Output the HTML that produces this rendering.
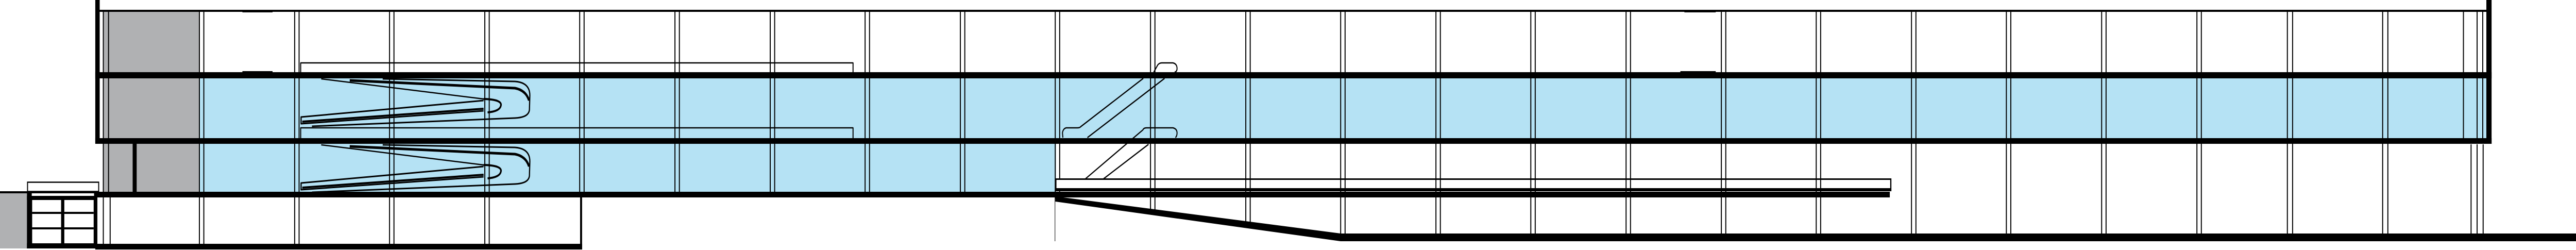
<!DOCTYPE html>
<html><head><meta charset="utf-8"><style>html,body{margin:0;padding:0;background:#fff;overflow:hidden;width:100%;height:100%}svg{display:block;width:100vw;height:100vh}</style></head>
<body>
<svg viewBox="0 0 6408 485" preserveAspectRatio="none" xmlns="http://www.w3.org/2000/svg">
<rect x="495" y="150" width="5692" height="120" fill="#b5e2f4"/>
<rect x="495" y="278" width="2132" height="96" fill="#b5e2f4"/>
<rect x="258" y="22" width="238" height="352" fill="#b0b1b3"/>
<rect x="0" y="372" width="67" height="110" fill="#b0b1b3"/>
<g stroke="#000" stroke-width="2.5" fill="none">
<path d="M496 23V473M507 23V473M733 23V473M744 23V473M969 23V473M980 23V473M1206 23V473M1217 23V473
M1442 23V372M1453 23V372M1679 23V372M1690 23V372M1916 23V372M1927 23V372M2152 23V372M2163 23V372M2389 23V372M2400 23V372
M2625 23V468M2636 23V468M2862 23V468M2873 23V468M3099 23V468M3110 23V468M3335 23V468M3346 23V468M3572 23V468M3583 23V468
M3808 23V468M3819 23V468M4045 23V468M4056 23V468M4282 23V468M4293 23V468M4518 23V468M4529 23V468M4755 23V468M4766 23V468
M4991 23V468M5002 23V468M5228 23V468M5239 23V468M5465 23V468M5476 23V468M5690 23V468M5703 23V468M5927 23V468M5940 23V468
M6128 23V275M6162 23V275M6176 23V275M6147 280V468M6162 280V468M6177 280V468
M241 383V473M257 383V473M274 383V473M257 23V372M270 23V372"/>
</g>
<polygon points="2625,386 3335,458 3335,485 2625,485" fill="#fff"/>
<g fill="#000">
<rect x="248" y="19" width="5937" height="4"/>
<rect x="237" y="0" width="11" height="278"/>
<rect x="6185" y="0" width="13" height="279"/>
<rect x="237" y="140" width="5961" height="12"/>
<rect x="237" y="268" width="5961" height="11"/>
<rect x="236" y="372" width="4465" height="11"/>
<rect x="237" y="473" width="1211" height="11"/>
<rect x="1443" y="383" width="5" height="101"/>
<polygon points="2625,383 2645,383 3335,453 6408,453 6408,468 3335,468 2625,391"/>
<rect x="330" y="279" width="10" height="93"/>
<rect x="603" y="19" width="75" height="5"/>
<rect x="603" y="138" width="75" height="14"/>
<rect x="4190" y="19" width="78" height="5"/>
<rect x="4180" y="138" width="88" height="5"/>
<rect x="0" y="371" width="240" height="4"/>
<rect x="67" y="372" width="13" height="110"/>
<rect x="233" y="372" width="7" height="110"/>
<rect x="67" y="380" width="173" height="8"/>
<rect x="67" y="472" width="173" height="10"/>
<rect x="152" y="380" width="8" height="100"/>
<rect x="80" y="411" width="153" height="4"/>
<rect x="80" y="441" width="153" height="4"/>
</g>
<rect x="68.5" y="353.5" width="177" height="18" fill="#fff" stroke="#000" stroke-width="2.5"/>
<rect x="79" y="375" width="155" height="5" fill="#fff"/>
<g fill="none" stroke="#000" stroke-linejoin="round">
<path d="M748 140V122H2122V140" stroke-width="2.5"/>
<path d="M748 268V248H2122V268" stroke-width="2.5"/>
<path d="M952 153L1281 158Q1318 160 1318 185L1317 213Q1315 228 1281 229L776 245" stroke-width="3"/>
<path d="M870 156L1281 171Q1308 175 1316 195" stroke-width="5"/>
<path d="M799 153L1203 192" stroke-width="2.5"/>
<path d="M1203 192Q1250 193 1246 205Q1243 216 1213 218" stroke-width="4"/>
<path d="M1203 195L749 227V240L1203 215" stroke-width="3"/>
<path d="M752 236L1203 211" stroke-width="4"/>
</g>
<g fill="none" stroke="#000" stroke-linejoin="round">
<path d="M952 281L1281 286Q1318 288 1318 313L1317 341Q1315 356 1281 357L776 373" stroke-width="3"/>
<path d="M870 284L1281 299Q1308 303 1316 323" stroke-width="5"/>
<path d="M799 281L1203 320" stroke-width="2.5"/>
<path d="M1203 320Q1250 321 1246 333Q1243 344 1213 346" stroke-width="4"/>
<path d="M1203 323L749 355V368L1203 343" stroke-width="3"/>
<path d="M752 364L1203 339" stroke-width="4"/>
</g>
<g fill="none" stroke="#000" stroke-width="2.5" stroke-linejoin="round">
<path d="M2870 140L2880 126Q2884 122 2890 122H2918Q2928 124 2928 133Q2928 139 2922 140"/>
<path d="M2844 152L2688 246Q2686 248 2680 248H2652Q2644 250 2643 258L2644 267"/>
<path d="M2897 152L2705 267"/>
<path d="M2700 347L2843 252Q2845 248 2852 248H2918Q2928 250 2928 258Q2928 264 2924 267"/>
<path d="M2857 280L2745 347"/>
</g>
<rect x="2626.5" y="347.5" width="2077" height="22" fill="#fff" stroke="#000" stroke-width="3"/>
<rect x="2626" y="365" width="2078" height="3" fill="#000"/>
<g stroke="#000" stroke-width="2.5">
<path d="M2862 347V372M2873 347V372M3099 347V372M3110 347V372M3335 347V372M3346 347V372M3572 347V372M3583 347V372M3808 347V372M3819 347V372M4045 347V372M4056 347V372M4282 347V372M4293 347V372M4518 347V372M4529 347V372"/>
</g>
</svg>
</body></html>
